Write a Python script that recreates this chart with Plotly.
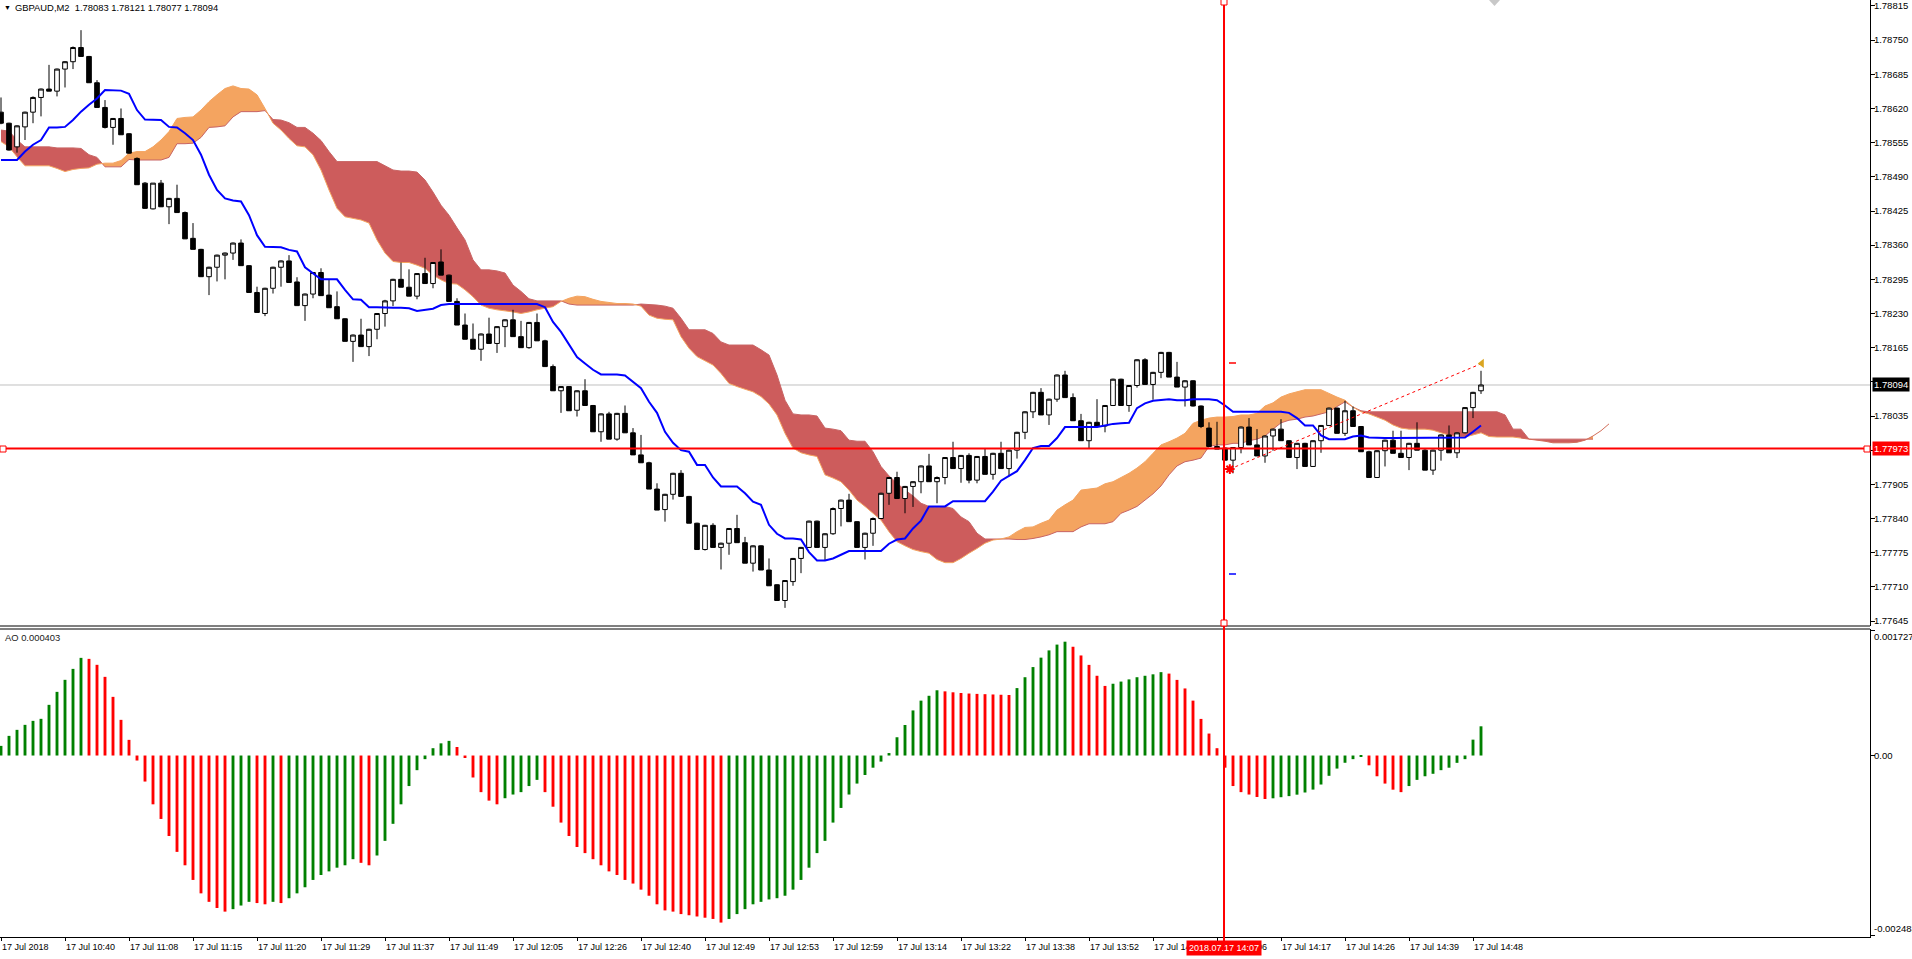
import plotly.graph_objects as go

# ---------------- data ----------------
header_text = "GBPAUD,M2\u00a0\u00a01.78083 1.78121 1.78077 1.78094"
ao_text = "AO 0.000403"

open_p = [1.78613,1.78592,1.78547,1.78585,1.78613,1.78641,1.78657,1.78653,1.78695,1.78709,
          1.78736,1.78719,1.78669,1.78622,1.78584,1.78601,1.78572,1.78525,1.78478,1.78429,
          1.78478,1.78433,1.78449,1.78422,1.78373,1.78352,1.78300,1.78318,1.78341,1.78345,
          1.78364,1.78321,1.78270,1.78230,1.78278,1.78318,1.78330,1.78290,1.78245,1.78267,
          1.78308,1.78265,1.78243,1.78220,1.78177,1.78189,1.78167,1.78200,1.78230,1.78254,
          1.78295,1.78280,1.78263,1.78306,1.78287,1.78328,1.78303,1.78253,1.78208,1.78181,
          1.78162,1.78191,1.78173,1.78205,1.78218,1.78186,1.78165,1.78213,1.78178,1.78129,
          1.78083,1.78091,1.78046,1.78083,1.78055,1.78005,1.78039,1.77991,1.78040,1.78003,
          1.77961,1.77946,1.77896,1.77857,1.77886,1.77926,1.77882,1.77831,1.77781,1.77827,
          1.77785,1.77793,1.77821,1.77794,1.77755,1.77788,1.77742,1.77714,1.77684,1.77720,
          1.77764,1.77785,1.77835,1.77785,1.77811,1.77859,1.77875,1.77834,1.77785,1.77812,
          1.77840,1.77888,1.77918,1.77878,1.77901,1.77910,1.77940,1.77910,1.77918,1.77956,
          1.77935,1.77960,1.77913,1.77958,1.77924,1.77964,1.77935,1.77970,1.78004,1.78043,
          1.78080,1.78037,1.78067,1.78113,1.78070,1.78026,1.77988,1.78023,1.78016,1.78055,
          1.78105,1.78055,1.78093,1.78142,1.78095,1.78118,1.78156,1.78109,1.78090,1.78102,
          1.78054,1.78012,1.77977,1.77974,1.77951,1.77975,1.78014,1.77980,1.77959,1.77997,
          1.78010,1.77988,1.77956,1.77983,1.77939,1.77988,1.78017,1.78050,1.78002,1.78045,
          1.78015,1.77967,1.77918,1.77969,1.77989,1.77964,1.77956,1.77983,1.77970,1.77932,
          1.77970,1.77999,1.77965,1.78003,1.78051,1.78083]

high_p = [1.78641,1.78593,1.78588,1.78614,1.78643,1.78658,1.78703,1.78696,1.78710,1.78738,
          1.78769,1.78720,1.78674,1.78636,1.78602,1.78620,1.78573,1.78527,1.78480,1.78478,
          1.78484,1.78450,1.78475,1.78424,1.78402,1.78353,1.78319,1.78342,1.78346,1.78365,
          1.78371,1.78322,1.78281,1.78279,1.78319,1.78331,1.78341,1.78299,1.78268,1.78309,
          1.78316,1.78294,1.78272,1.78221,1.78190,1.78220,1.78201,1.78231,1.78256,1.78296,
          1.78327,1.78314,1.78307,1.78336,1.78328,1.78352,1.78304,1.78259,1.78230,1.78211,
          1.78192,1.78222,1.78206,1.78219,1.78237,1.78216,1.78214,1.78230,1.78180,1.78133,
          1.78092,1.78092,1.78084,1.78105,1.78056,1.78040,1.78043,1.78041,1.78055,1.78012,
          1.77999,1.77948,1.77907,1.77887,1.77927,1.77932,1.77883,1.77832,1.77828,1.77831,
          1.77794,1.77822,1.77847,1.77805,1.77789,1.77789,1.77764,1.77715,1.77723,1.77765,
          1.77786,1.77836,1.77836,1.77812,1.77861,1.77876,1.77887,1.77835,1.77813,1.77842,
          1.77889,1.77919,1.77929,1.77902,1.77911,1.77941,1.77963,1.77920,1.77957,1.77986,
          1.77961,1.77964,1.77959,1.77974,1.77965,1.77986,1.77971,1.78005,1.78044,1.78081,
          1.78088,1.78068,1.78114,1.78121,1.78078,1.78039,1.78024,1.78067,1.78056,1.78106,
          1.78106,1.78094,1.78143,1.78145,1.78119,1.78157,1.78157,1.78138,1.78103,1.78103,
          1.78055,1.78023,1.78024,1.77975,1.77976,1.78015,1.78031,1.78010,1.77998,1.78011,
          1.78029,1.77989,1.77984,1.77984,1.77989,1.78018,1.78051,1.78051,1.78064,1.78053,
          1.78016,1.77969,1.77970,1.77990,1.78007,1.78007,1.77984,1.78023,1.77972,1.77971,
          1.78000,1.78017,1.78004,1.78052,1.78081,1.78121]

low_p = [1.78590,1.78540,1.78536,1.78560,1.78592,1.78605,1.78653,1.78643,1.78660,1.78695,
         1.78719,1.78669,1.78622,1.78582,1.78551,1.78570,1.78534,1.78475,1.78429,1.78428,
         1.78433,1.78400,1.78422,1.78372,1.78352,1.78300,1.78265,1.78291,1.78295,1.78332,
         1.78321,1.78270,1.78232,1.78225,1.78268,1.78281,1.78289,1.78245,1.78216,1.78259,
         1.78264,1.78241,1.78220,1.78177,1.78138,1.78167,1.78149,1.78181,1.78205,1.78244,
         1.78280,1.78263,1.78257,1.78287,1.78278,1.78303,1.78253,1.78208,1.78181,1.78162,
         1.78140,1.78173,1.78155,1.78166,1.78186,1.78165,1.78163,1.78178,1.78129,1.78083,
         1.78041,1.78045,1.78034,1.78055,1.78005,1.77986,1.77991,1.77988,1.78003,1.77961,
         1.77946,1.77896,1.77856,1.77834,1.77876,1.77882,1.77831,1.77781,1.77779,1.77785,
         1.77743,1.77771,1.77794,1.77755,1.77739,1.77742,1.77712,1.77684,1.77670,1.77712,
         1.77736,1.77784,1.77785,1.77761,1.77809,1.77825,1.77834,1.77785,1.77762,1.77788,
         1.77839,1.77866,1.77878,1.77850,1.77862,1.77888,1.77910,1.77869,1.77905,1.77935,
         1.77908,1.77907,1.77907,1.77924,1.77914,1.77935,1.77920,1.77954,1.77991,1.78031,
         1.78037,1.78018,1.78062,1.78070,1.78026,1.77988,1.77973,1.78016,1.78004,1.78054,
         1.78055,1.78043,1.78089,1.78095,1.78066,1.78107,1.78109,1.78090,1.78053,1.78053,
         1.78012,1.77976,1.77972,1.77951,1.77926,1.77964,1.77980,1.77959,1.77946,1.77969,
         1.77988,1.77956,1.77934,1.77939,1.77938,1.77965,1.78016,1.78002,1.77997,1.78015,
         1.77967,1.77918,1.77917,1.77939,1.77964,1.77956,1.77932,1.77970,1.77932,1.77923,
         1.77950,1.77965,1.77955,1.78002,1.78031,1.78077]

close_p = [1.78592,1.78541,1.78587,1.78613,1.78641,1.78657,1.78653,1.78695,1.78709,1.78736,
           1.78719,1.78669,1.78622,1.78584,1.78601,1.78570,1.78535,1.78475,1.78430,1.78478,
           1.78433,1.78449,1.78422,1.78372,1.78352,1.78300,1.78318,1.78341,1.78345,1.78364,
           1.78321,1.78270,1.78232,1.78278,1.78318,1.78330,1.78289,1.78245,1.78267,1.78308,
           1.78264,1.78241,1.78220,1.78177,1.78189,1.78167,1.78200,1.78230,1.78254,1.78295,
           1.78280,1.78263,1.78306,1.78287,1.78327,1.78303,1.78253,1.78208,1.78181,1.78162,
           1.78191,1.78173,1.78205,1.78218,1.78186,1.78165,1.78213,1.78178,1.78129,1.78083,
           1.78091,1.78045,1.78083,1.78055,1.78005,1.78039,1.77991,1.78040,1.78003,1.77961,
           1.77946,1.77896,1.77856,1.77886,1.77926,1.77882,1.77831,1.77781,1.77827,1.77785,
           1.77793,1.77821,1.77794,1.77755,1.77788,1.77742,1.77712,1.77684,1.77722,1.77764,
           1.77785,1.77835,1.77785,1.77811,1.77859,1.77875,1.77834,1.77785,1.77812,1.77840,
           1.77888,1.77918,1.77878,1.77901,1.77910,1.77940,1.77910,1.77918,1.77956,1.77935,
           1.77960,1.77913,1.77958,1.77924,1.77964,1.77935,1.77970,1.78004,1.78043,1.78080,
           1.78037,1.78067,1.78113,1.78070,1.78026,1.77988,1.78023,1.78016,1.78055,1.78105,
           1.78055,1.78093,1.78142,1.78095,1.78118,1.78156,1.78109,1.78090,1.78102,1.78054,
           1.78015,1.77977,1.77972,1.77951,1.77975,1.78014,1.77980,1.77959,1.77997,1.78010,
           1.77988,1.77956,1.77983,1.77939,1.77988,1.78017,1.78050,1.78002,1.78045,1.78015,
           1.77967,1.77918,1.77969,1.77989,1.77964,1.77956,1.77983,1.77970,1.77932,1.77970,
           1.77999,1.77965,1.78003,1.78051,1.78080,1.78094]

kijun = [1.78522,1.78522,1.78522,1.78538,1.78551,1.78560,1.78584,1.78584,1.78585,1.78598,
         1.78614,1.78627,1.78639,1.78655,1.78655,1.78654,1.78648,1.78617,1.78599,1.78599,
         1.78598,1.78585,1.78584,1.78573,1.78560,1.78532,1.78494,1.78465,1.78449,1.78445,
         1.78443,1.78417,1.78379,1.78357,1.78357,1.78356,1.78351,1.78348,1.78318,1.78307,
         1.78295,1.78295,1.78295,1.78275,1.78257,1.78256,1.78242,1.78242,1.78241,1.78241,
         1.78241,1.78240,1.78235,1.78237,1.78239,1.78246,1.78248,1.78248,1.78248,1.78248,
         1.78248,1.78248,1.78248,1.78248,1.78248,1.78248,1.78248,1.78248,1.78242,1.78214,
         1.78195,1.78170,1.78147,1.78135,1.78123,1.78114,1.78114,1.78114,1.78112,1.78100,
         1.78088,1.78062,1.78041,1.78005,1.77984,1.77970,1.77967,1.77942,1.77942,1.77918,
         1.77901,1.77901,1.77901,1.77888,1.77872,1.77866,1.77828,1.77811,1.77802,1.77802,
         1.77800,1.77776,1.77760,1.77760,1.77764,1.77771,1.77778,1.77778,1.77778,1.77778,
         1.77778,1.77792,1.77800,1.77802,1.77821,1.77836,1.77863,1.77863,1.77863,1.77873,
         1.77873,1.77873,1.77873,1.77873,1.77891,1.77912,1.77921,1.77930,1.77951,1.77974,
         1.77978,1.77978,1.77993,1.78014,1.78014,1.78014,1.78014,1.78014,1.78017,1.78020,
         1.78021,1.78022,1.78050,1.78059,1.78064,1.78066,1.78067,1.78065,1.78065,1.78067,
         1.78067,1.78067,1.78065,1.78055,1.78043,1.78043,1.78043,1.78043,1.78043,1.78043,
         1.78043,1.78041,1.78031,1.78017,1.78017,1.77998,1.77991,1.77991,1.77991,1.77996,
         1.77998,1.77994,1.77993,1.77993,1.77993,1.77993,1.77993,1.77993,1.77993,1.77993,
         1.77993,1.77993,1.77993,1.77994,1.78005,1.78017]

span_a = [1.78557,1.78547,1.78528,1.78511,1.78511,1.78511,1.78511,1.78506,1.78500,1.78504,
          1.78506,1.78507,1.78514,1.78516,1.78516,1.78521,1.78535,1.78538,1.78538,1.78547,
          1.78560,1.78576,1.78601,1.78603,1.78604,1.78617,1.78633,1.78646,1.78658,1.78663,
          1.78658,1.78657,1.78646,1.78620,1.78592,1.78579,1.78563,1.78549,1.78547,1.78532,
          1.78503,1.78465,1.78430,1.78414,1.78411,1.78408,1.78402,1.78370,1.78345,1.78329,
          1.78327,1.78327,1.78322,1.78316,1.78303,1.78294,1.78287,1.78286,1.78275,1.78262,
          1.78246,1.78240,1.78237,1.78235,1.78233,1.78230,1.78233,1.78237,1.78240,1.78243,
          1.78253,1.78259,1.78263,1.78262,1.78257,1.78253,1.78251,1.78249,1.78249,1.78248,
          1.78244,1.78227,1.78221,1.78219,1.78218,1.78186,1.78164,1.78148,1.78140,1.78132,
          1.78116,1.78097,1.78091,1.78086,1.78081,1.78072,1.78058,1.78037,1.78002,1.77974,
          1.77965,1.77961,1.77958,1.77923,1.77917,1.77910,1.77894,1.77875,1.77863,1.77850,
          1.77837,1.77815,1.77796,1.77788,1.77781,1.77777,1.77774,1.77762,1.77756,1.77756,
          1.77764,1.77774,1.77783,1.77793,1.77799,1.77801,1.77805,1.77815,1.77823,1.77824,
          1.77831,1.77837,1.77856,1.77866,1.77875,1.77894,1.77896,1.77898,1.77906,1.77910,
          1.77918,1.77926,1.77936,1.77948,1.77964,1.77980,1.77986,1.77993,1.78002,1.78021,
          1.78027,1.78031,1.78033,1.78033,1.78034,1.78037,1.78037,1.78040,1.78054,1.78060,
          1.78071,1.78077,1.78081,1.78085,1.78085,1.78085,1.78078,1.78071,1.78065,1.78052,
          1.78043,1.78039,1.78033,1.78027,1.78018,1.78012,1.78010,1.78010,1.78010,1.78008,
          1.78003,1.77999,1.77995,1.77995,1.77999,1.78003,1.77996,1.77995,1.77995,1.77995,
          1.77993,1.77991,1.77989,1.77987,1.77984,1.77984,1.77984,1.77985,1.77989,1.77997,
          1.78007,1.78020]

span_b = [1.78579,1.78577,1.78560,1.78547,1.78547,1.78547,1.78547,1.78545,1.78545,1.78545,
          1.78544,1.78532,1.78527,1.78509,1.78509,1.78509,1.78523,1.78522,1.78522,1.78522,
          1.78522,1.78527,1.78553,1.78553,1.78554,1.78565,1.78584,1.78585,1.78587,1.78604,
          1.78614,1.78614,1.78614,1.78616,1.78599,1.78598,1.78593,1.78584,1.78584,1.78573,
          1.78559,1.78538,1.78519,1.78519,1.78519,1.78519,1.78519,1.78519,1.78511,1.78503,
          1.78501,1.78501,1.78499,1.78484,1.78461,1.78436,1.78417,1.78393,1.78370,1.78332,
          1.78313,1.78313,1.78311,1.78307,1.78284,1.78272,1.78258,1.78254,1.78254,1.78254,
          1.78254,1.78248,1.78246,1.78246,1.78246,1.78246,1.78246,1.78246,1.78246,1.78246,
          1.78248,1.78247,1.78246,1.78244,1.78240,1.78221,1.78199,1.78199,1.78199,1.78192,
          1.78176,1.78170,1.78170,1.78170,1.78170,1.78161,1.78151,1.78113,1.78065,1.78039,
          1.78037,1.78037,1.78035,1.78012,1.78010,1.78007,1.77989,1.77987,1.77987,1.77967,
          1.77939,1.77921,1.77907,1.77894,1.77883,1.77869,1.77863,1.77861,1.77863,1.77859,
          1.77843,1.77834,1.77812,1.77801,1.77801,1.77801,1.77801,1.77800,1.77800,1.77802,
          1.77805,1.77809,1.77815,1.77815,1.77815,1.77824,1.77830,1.77830,1.77830,1.77834,
          1.77850,1.77856,1.77863,1.77875,1.77887,1.77902,1.77923,1.77940,1.77948,1.77951,
          1.77955,1.77977,1.77980,1.77980,1.77983,1.77983,1.77988,1.77991,1.77997,1.78010,
          1.78022,1.78027,1.78029,1.78033,1.78035,1.78039,1.78043,1.78053,1.78062,1.78052,
          1.78045,1.78043,1.78043,1.78043,1.78043,1.78043,1.78043,1.78043,1.78043,1.78043,
          1.78043,1.78043,1.78043,1.78043,1.78043,1.78043,1.78043,1.78043,1.78037,1.78010,
          1.78010,1.77991,1.77991,1.77991,1.77991,1.77991,1.77991,1.77991,1.77991,1.77991]

ao = [0.000133,0.000271,0.000354,0.000423,0.000478,0.000506,0.000699,0.000878,0.001044,0.001195,
      0.001347,0.001333,0.001251,0.001085,0.000809,0.000492,0.000216,-0.000069,-0.000359,-0.000673,
      -0.000875,-0.001110,-0.001329,-0.001514,-0.001716,-0.001901,-0.002018,-0.002103,-0.002153,-0.002119,
      -0.002069,-0.002018,-0.002035,-0.002052,-0.002018,-0.002035,-0.001968,-0.001901,-0.001817,-0.001716,
      -0.001648,-0.001598,-0.001547,-0.001514,-0.001430,-0.001480,-0.001514,-0.001379,-0.001177,-0.000942,
      -0.000673,-0.000421,-0.000202,-0.000050,0.000101,0.000168,0.000202,0.000118,-0.000034,-0.000303,
      -0.000505,-0.000622,-0.000673,-0.000589,-0.000538,-0.000505,-0.000421,-0.000336,-0.000505,-0.000706,
      -0.000925,-0.001110,-0.001262,-0.001346,-0.001430,-0.001514,-0.001598,-0.001648,-0.001716,-0.001766,
      -0.001850,-0.001934,-0.002052,-0.002136,-0.002153,-0.002187,-0.002203,-0.002220,-0.002237,-0.002254,
      -0.002304,-0.002254,-0.002187,-0.002119,-0.002052,-0.002018,-0.001985,-0.001968,-0.001934,-0.001850,
      -0.001716,-0.001547,-0.001346,-0.001177,-0.000925,-0.000723,-0.000538,-0.000387,-0.000269,-0.000168,
      -0.000084,0.000034,0.000252,0.000421,0.000622,0.000757,0.000824,0.000900,0.000885,0.000872,
      0.000862,0.000855,0.000850,0.000846,0.000842,0.000838,0.000835,0.000930,0.001080,0.001220,
      0.001350,0.001450,0.001530,0.001570,0.001500,0.001380,0.001250,0.001100,0.000960,0.000990,
      0.001020,0.001050,0.001080,0.001100,0.001120,0.001150,0.001130,0.001043,0.000925,0.000757,
      0.000505,0.000303,0.000101,-0.000168,-0.000421,-0.000505,-0.000538,-0.000572,-0.000600,-0.000590,
      -0.000575,-0.000560,-0.000540,-0.000510,-0.000470,-0.000400,-0.000280,-0.000180,-0.000100,-0.000050,
      -0.000020,-0.000135,-0.000286,-0.000387,-0.000471,-0.000505,-0.000421,-0.000336,-0.000286,-0.000252,
      -0.000202,-0.000168,-0.000101,-0.000050,0.000219,0.000403]

time_labels = ["17 Jul 2018", "17 Jul 10:40", "17 Jul 11:08", "17 Jul 11:15", "17 Jul 11:20",
               "17 Jul 11:29", "17 Jul 11:37", "17 Jul 11:49", "17 Jul 12:05", "17 Jul 12:26",
               "17 Jul 12:40", "17 Jul 12:49", "17 Jul 12:53", "17 Jul 12:59", "17 Jul 13:14",
               "17 Jul 13:22", "17 Jul 13:38", "17 Jul 13:52", "17 Jul 14:00", "17 Jul 14:06",
               "17 Jul 14:17", "17 Jul 14:26", "17 Jul 14:39", "17 Jul 14:48"]
label_every = 8

price_ticks = [1.77645, 1.77710, 1.77775, 1.77840, 1.77905, 1.77970, 1.78035, 1.78100,
               1.78165, 1.78230, 1.78295, 1.78360, 1.78425, 1.78490, 1.78555, 1.78620,
               1.78685, 1.78750, 1.78815]
ao_tick_vals = [0.001727, 0.0, -0.002483]
ao_tick_text = ["0.001727", "0.00", "-0.002483"]

bid_price = 1.78094
cross_price = 1.77973
cross_bar = 152.875
cross_time = "2018.07.17 14:07"
trend_x = [153.6, 185.1]
trend_y = [1.77934, 1.78135]

# ---------------- styling / geometry ----------------
FONT = "Liberation Sans, Arial, sans-serif"
FS = 9.5
FS_X = 9.0
FS_HEAD = 9.4
ORANGE = "#F4A460"
RED_CLOUD = "#CD5C5C"
PLOT_W, PLOT_H = 1870, 937
MAIN_H, AO_TOP = 626, 629
MAIN_RANGE = [1.776355, 1.788264]
AO_RANGE = [-0.002503, 0.001745]


def pxx(p):
    return p / PLOT_W


def pxy(p):
    return 1 - p / PLOT_H


n = len(open_p)
bars = list(range(n))


# ---------------- cloud polygons ----------------
def cloud_runs(a, b):
    m = min(len(a), len(b))
    pts = []
    for i in range(m):
        pts.append((i, a[i], b[i]))
        if i < m - 1:
            d0 = a[i] - b[i]
            d1 = a[i + 1] - b[i + 1]
            if d0 * d1 < 0:
                t = d0 / (d0 - d1)
                yc = a[i] + t * (a[i + 1] - a[i])
                pts.append((i + t, yc, yc))
    runs, cur, sgn = [], [], 0
    for p in pts:
        d = p[1] - p[2]
        s = 0 if abs(d) < 1e-9 else (1 if d > 0 else -1)
        if s == 0:
            cur.append(p)
            if sgn != 0:
                runs.append((sgn, cur))
                cur, sgn = [p], 0
        elif sgn == 0 or s == sgn:
            sgn = s
            cur.append(p)
        else:
            runs.append((sgn, cur))
            cur, sgn = [cur[-1], p], s
    if sgn != 0 and len(cur) > 1:
        runs.append((sgn, cur))
    return runs


shapes = []
for sgn, pts in cloud_runs(span_a, span_b):
    fwd = [(p[0], p[1]) for p in pts]
    back = [(p[0], p[2]) for p in reversed(pts)]
    path = "M " + " L ".join(f"{x:.4f},{y:.6f}" for x, y in fwd + back) + " Z"
    shapes.append(dict(type="path", path=path, xref="x", yref="y", layer="below",
                       fillcolor=ORANGE if sgn > 0 else RED_CLOUD, line=dict(width=0)))


def line_path(vals, start=0):
    return "M " + " L ".join(f"{start + i},{v:.6f}" for i, v in enumerate(vals))


TAIL = 190
shapes.append(dict(type="path", path=line_path(span_b), xref="x", yref="y", layer="below",
                   line=dict(color="#C86464", width=1)))
shapes.append(dict(type="path", path=line_path(span_a[:TAIL + 1]), xref="x", yref="y", layer="below",
                   line=dict(color=ORANGE, width=1)))
shapes.append(dict(type="path", path=line_path(span_a[TAIL:], TAIL), xref="x", yref="y", layer="below",
                   line=dict(color="#D26E5A", width=1)))

shapes.append(dict(type="line", xref="paper", yref="y", x0=0, x1=1, y0=bid_price, y1=bid_price,
                   layer="below", line=dict(color="#C0C0C0", width=1)))

# ---------------- traces ----------------
fig = go.Figure()
fig.add_trace(go.Candlestick(
    x=bars, open=open_p, high=high_p, low=low_p, close=close_p,
    increasing=dict(line=dict(color="black", width=1), fillcolor="white"),
    decreasing=dict(line=dict(color="black", width=1), fillcolor="black"),
    whiskerwidth=0, hoverinfo="skip", showlegend=False, xaxis="x", yaxis="y"))

fig.add_trace(go.Scatter(x=bars, y=kijun, mode="lines", line=dict(color="#0000FF", width=2),
                         hoverinfo="skip", showlegend=False, xaxis="x", yaxis="y"))

fig.add_trace(go.Scatter(x=trend_x, y=trend_y, mode="lines",
                         line=dict(color="red", width=1, dash="dot"),
                         hoverinfo="skip", showlegend=False, xaxis="x", yaxis="y"))
fig.add_trace(go.Scatter(x=[trend_x[0]], y=[trend_y[0]], mode="markers",
                         marker=dict(symbol="asterisk-open", size=8, color="red",
                                     line=dict(color="red", width=2)),
                         hoverinfo="skip", showlegend=False, xaxis="x", yaxis="y"))
fig.add_trace(go.Scatter(x=[trend_x[1]], y=[trend_y[1]], mode="markers",
                         marker=dict(symbol="triangle-left", size=8, color="#DAA520"),
                         hoverinfo="skip", showlegend=False, xaxis="x", yaxis="y"))

ao_colors = ["#008000"] + ["#008000" if ao[i] > ao[i - 1] else "#FF0000" for i in range(1, len(ao))]
fig.add_trace(go.Bar(x=bars, y=ao, width=0.36, marker=dict(color=ao_colors, line=dict(width=0)),
                     hoverinfo="skip", showlegend=False, xaxis="x", yaxis="y2"))

# ---------------- decorations ----------------
shapes.append(dict(type="line", xref="paper", yref="paper", x0=0, x1=1, y0=pxy(MAIN_H), y1=pxy(MAIN_H),
                   line=dict(color="black", width=1)))
shapes.append(dict(type="line", xref="paper", yref="paper", x0=0, x1=1, y0=pxy(AO_TOP), y1=pxy(AO_TOP),
                   line=dict(color="black", width=1)))
shapes.append(dict(type="line", xref="paper", yref="y", x0=0, x1=1, y0=cross_price, y1=cross_price,
                   line=dict(color="#FF0000", width=2)))
shapes.append(dict(type="line", xref="x", yref="paper", x0=cross_bar, x1=cross_bar, y0=-0.012, y1=1,
                   line=dict(color="#FF0000", width=2)))
for (cx, cy) in [(3, 449), (1867, 449), (1224, 2), (1224, 623)]:
    shapes.append(dict(type="rect", xref="paper", yref="paper",
                       x0=pxx(cx - 3), x1=pxx(cx + 3), y0=pxy(cy + 3), y1=pxy(cy - 3),
                       line=dict(color="#FF0000", width=1), fillcolor="white"))
shapes.append(dict(type="line", xref="paper", yref="paper", x0=pxx(1229), x1=pxx(1236),
                   y0=pxy(363), y1=pxy(363), line=dict(color="#FF0000", width=1.5)))
shapes.append(dict(type="line", xref="paper", yref="paper", x0=pxx(1229), x1=pxx(1236),
                   y0=pxy(574), y1=pxy(574), line=dict(color="#0000FF", width=1.5)))
shapes.append(dict(type="path", xref="paper", yref="paper",
                   path=f"M {pxx(1489)},{pxy(0)} L {pxx(1500)},{pxy(0)} L {pxx(1494.5)},{pxy(6)} Z",
                   fillcolor="#C8C8C8", line=dict(width=0)))

annotations = []
annotations.append(dict(x=0, y=1, xref="paper", yref="paper", xanchor="left", yanchor="top",
                        xshift=2, yshift=-2, text="\u25bc", showarrow=False,
                        font=dict(size=7, color="black", family=FONT)))
annotations.append(dict(x=0, y=1, xref="paper", yref="paper", xanchor="left", yanchor="top",
                        xshift=13, yshift=0, text=header_text, showarrow=False,
                        font=dict(size=FS_HEAD, color="black", family=FONT)))
annotations.append(dict(x=0, y=pxy(AO_TOP), xref="paper", yref="paper", xanchor="left", yanchor="top",
                        xshift=3, yshift=-1, text=ao_text, showarrow=False,
                        font=dict(size=FS_HEAD, color="#202020", family=FONT)))
for k, lab in enumerate(time_labels):
    annotations.append(dict(x=k * label_every, y=0, xref="x", yref="paper", xanchor="left", yanchor="top",
                            yshift=-3, xshift=-1, text=lab, showarrow=False,
                            font=dict(size=FS_X, color="black", family=FONT)))
ao_anchor = ["top", "middle", "bottom"]
ao_shift = [1, 0, 0]
for v, t, a, s in zip(ao_tick_vals, ao_tick_text, ao_anchor, ao_shift):
    annotations.append(dict(x=1, y=v, xref="paper", yref="y2", xanchor="left", yanchor=a, yshift=s,
                            xshift=2, text=t, showarrow=False,
                            font=dict(size=FS, color="black", family=FONT)))
annotations.append(dict(x=1, y=bid_price, xref="paper", yref="y", xanchor="left", yanchor="middle",
                        xshift=2, text=f"{bid_price:.5f}", showarrow=False, bgcolor="black",
                        borderpad=1, font=dict(size=FS, color="white", family=FONT)))
annotations.append(dict(x=1, y=cross_price, xref="paper", yref="y", xanchor="left", yanchor="middle",
                        xshift=2, text=f"{cross_price:.5f}", showarrow=False, bgcolor="#FF0000",
                        borderpad=1, font=dict(size=FS, color="white", family=FONT)))
annotations.append(dict(x=cross_bar, y=0, xref="x", yref="paper", xanchor="center", yanchor="top",
                        yshift=-3, text=cross_time, showarrow=False, bgcolor="#FF0000",
                        borderpad=2, font=dict(size=FS_X, color="white", family=FONT)))

fig.update_layout(
    width=1912, height=959,
    margin=dict(l=0, r=42, t=0, b=22, pad=0),
    paper_bgcolor="white", plot_bgcolor="white",
    showlegend=False,
    font=dict(family=FONT, size=FS, color="black"),
    boxgap=0.42, boxgroupgap=0,
    xaxis=dict(domain=[0, 1], anchor="y2", range=[-0.125, 233.625], showgrid=False, zeroline=False,
               showline=True, linecolor="black", linewidth=1, ticks="outside", ticklen=3,
               tickcolor="black", tickvals=[k * label_every for k in range(len(time_labels))],
               showticklabels=False, rangeslider=dict(visible=False), fixedrange=True),
    yaxis=dict(domain=[pxy(MAIN_H), 1], anchor="x", side="right", range=MAIN_RANGE,
               showgrid=False, zeroline=False, showline=True, linecolor="black", linewidth=1,
               ticks="outside", ticklen=4, tickcolor="black", tickvals=price_ticks,
               ticktext=[f"{v:.5f}" for v in price_ticks], automargin=False,
               ticklabelstandoff=-3,
               tickfont=dict(size=FS, family=FONT, color="black"), fixedrange=True),
    yaxis2=dict(domain=[0, pxy(AO_TOP)], anchor="x", side="right", range=AO_RANGE,
                showgrid=False, zeroline=False, showline=True, linecolor="black", linewidth=1,
                ticks="outside", ticklen=4, tickcolor="black", tickvals=ao_tick_vals,
                showticklabels=False, automargin=False, fixedrange=True),
    shapes=shapes,
    annotations=annotations,
)

fig.write_html("out.html")
